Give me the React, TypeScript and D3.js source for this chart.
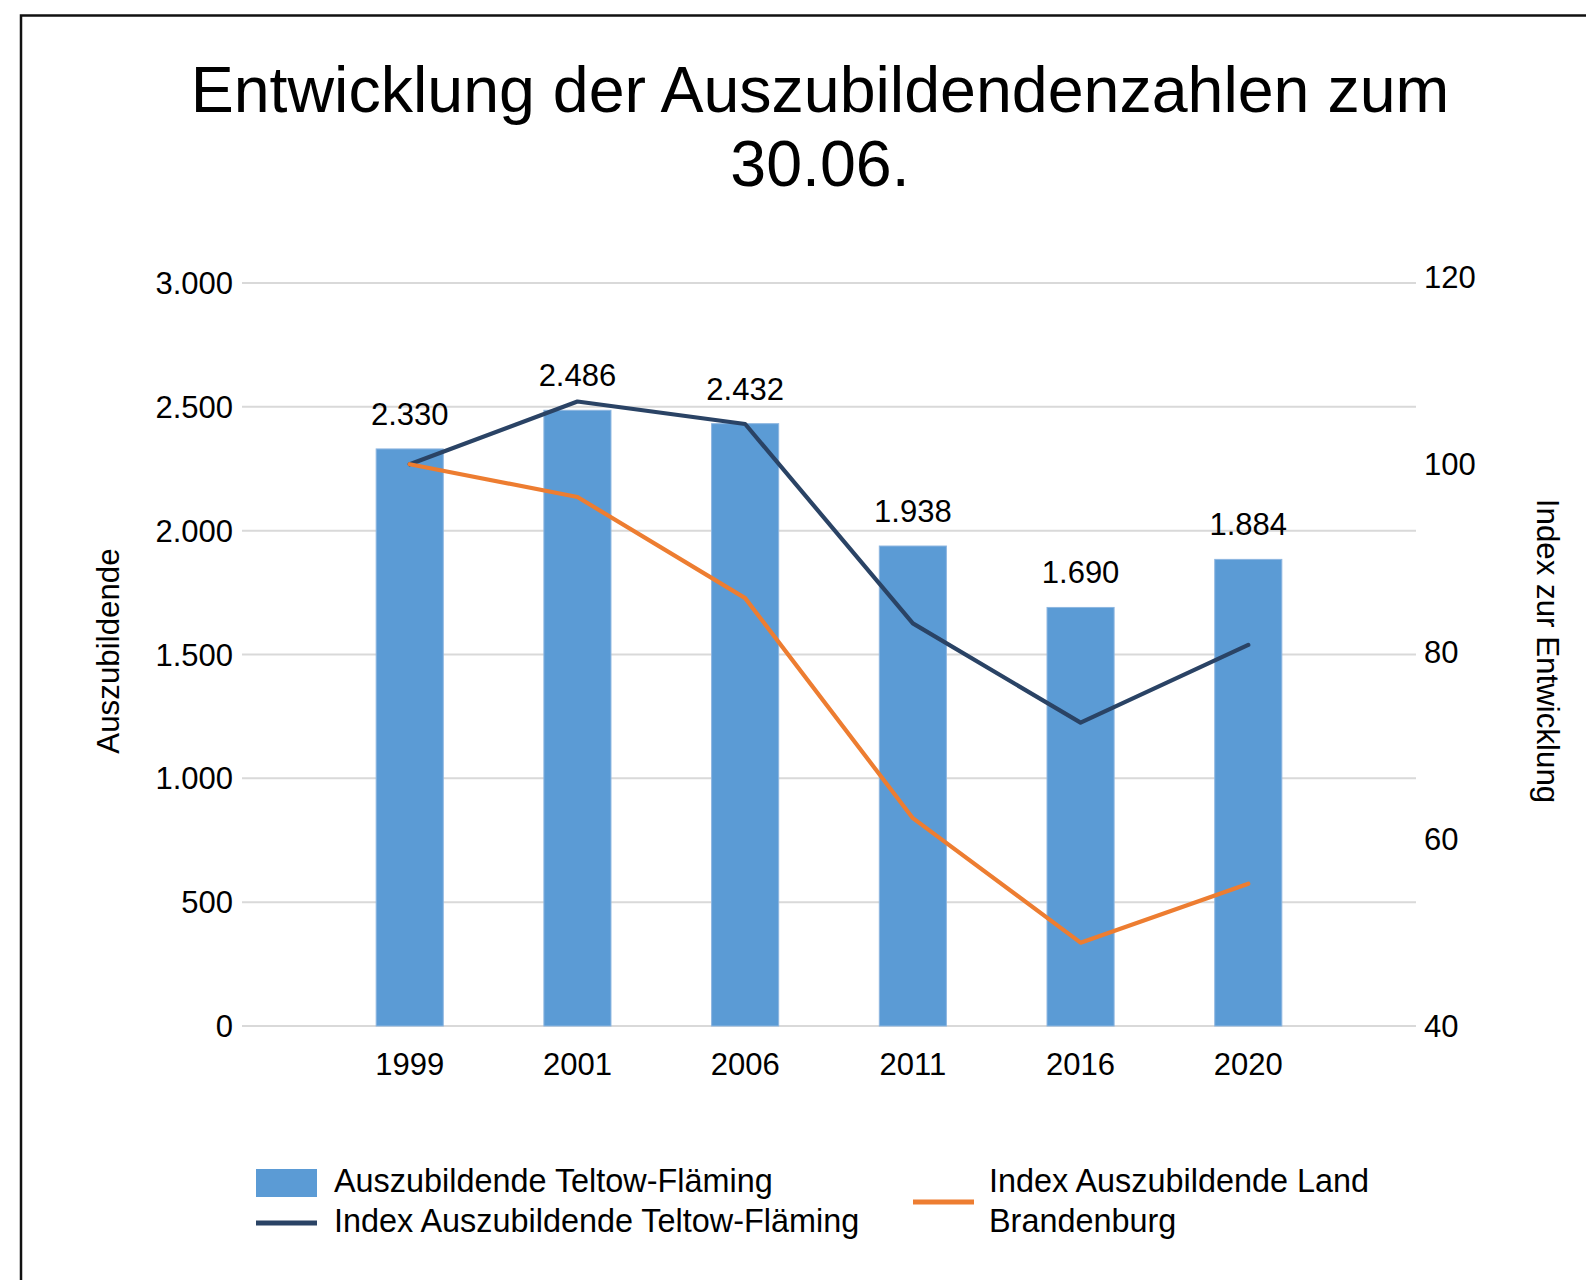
import React from 'react';
import * as d3 from 'd3';

const years = ['1999', '2001', '2006', '2011', '2016', '2020'];
const trainees = [2330, 2486, 2432, 1938, 1690, 1884];
const indexTeltow = [100, 106.7, 104.3, 83.0, 72.4, 80.7];
const indexBrandenburg = [100, 96.5, 85.7, 62.2, 48.9, 55.2];
const leftTicks = [0, 500, 1000, 1500, 2000, 2500, 3000];
const rightTicks = [40, 60, 80, 100, 120];

const titleLines = ['Entwicklung der Auszubildendenzahlen zum', '30.06.'];
const leftAxisTitle = 'Auszubildende';
const rightAxisTitle = 'Index zur Entwicklung';
const legendBar = 'Auszubildende Teltow-Fläming';
const legendNavy = 'Index Auszubildende Teltow-Fläming';
const legendOrange = ['Index Auszubildende Land', 'Brandenburg'];

const BAR = '#5B9BD5';
const NAVY = '#2A4365';
const ORANGE = '#ED7D31';
const GRID = '#D9D9D9';
const FONT = '"Liberation Sans", Arial, sans-serif';

const de = d3.formatLocale({ decimal: ',', thousands: '.', grouping: [3], currency: ['', '€'] });
const fmt = de.format(',d');

export default function App() {
  const W = 1586;
  const H = 1280;
  const x = d3.scaleBand<string>().domain(years).range([242, 1416]).paddingInner(0.6).paddingOuter(0.8);
  const yL = d3.scaleLinear().domain([0, 3000]).range([1026, 283]);
  const yR = d3.scaleLinear().domain([40, 120]).range([1026, 277]);
  const cx = (i: number) => (x(years[i]) as number) + x.bandwidth() / 2;

  const line = d3
    .line<number>()
    .x((_, i) => cx(i))
    .y((d) => yR(d));

  return (
    <svg
      width={W}
      height={H}
      viewBox={`0 0 ${W} ${H}`}
      style={{ position: 'absolute', left: 0, top: 0, display: 'block', background: '#fff' }}
      fontFamily={FONT}
    >
      <rect x={0} y={0} width={W} height={H} fill="#fff" />
      {/* frame */}
      <path d={`M21,${H} L21,15.5 L${W},15.5`} fill="none" stroke="#111" strokeWidth={2.5} />

      {/* title */}
      {titleLines.map((t, i) => (
        <text key={i} x={820} y={112 + i * 74} textAnchor="middle" fontSize={64.5} fill="#000">
          {t}
        </text>
      ))}

      {/* gridlines */}
      {leftTicks.map((v) => (
        <line key={v} x1={242} x2={1416} y1={yL(v)} y2={yL(v)} stroke={GRID} strokeWidth={2} />
      ))}

      {/* left ticks */}
      {leftTicks.map((v) => (
        <text key={v} x={233} y={yL(v)} dy="0.36em" textAnchor="end" fontSize={31} fill="#000">
          {fmt(v)}
        </text>
      ))}

      {/* right ticks */}
      {rightTicks.map((v) => (
        <text key={v} x={1424} y={yR(v)} dy="0.36em" textAnchor="start" fontSize={31} fill="#000">
          {v}
        </text>
      ))}

      {/* axis titles */}
      <text
        transform={`translate(119,651) rotate(-90)`}
        textAnchor="middle"
        fontSize={31.3}
        fill="#000"
      >
        {leftAxisTitle}
      </text>
      <text
        transform={`translate(1537,651) rotate(90)`}
        textAnchor="middle"
        fontSize={31.3}
        fill="#000"
      >
        {rightAxisTitle}
      </text>

      {/* bars */}
      {trainees.map((v, i) => (
        <rect
          key={years[i]}
          x={x(years[i])}
          y={yL(v)}
          width={x.bandwidth()}
          height={yL(0) - yL(v)}
          fill={BAR}
          stroke="#8DB6E0"
          strokeWidth={1}
        />
      ))}

      {/* x labels */}
      {years.map((y, i) => (
        <text key={y} x={cx(i)} y={1075} textAnchor="middle" fontSize={31} fill="#000">
          {y}
        </text>
      ))}

      {/* lines */}
      <path d={line(indexTeltow) || ''} fill="none" stroke={NAVY} strokeWidth={4.2} strokeLinejoin="round" strokeLinecap="round" />
      <path d={line(indexBrandenburg) || ''} fill="none" stroke={ORANGE} strokeWidth={4.2} strokeLinejoin="round" strokeLinecap="round" />

      {/* data labels */}
      {trainees.map((v, i) => (
        <text key={years[i]} x={cx(i)} y={yL(v) - 24} textAnchor="middle" fontSize={31} fill="#000">
          {fmt(v)}
        </text>
      ))}

      {/* legend */}
      <rect x={256} y={1169} width={61} height={28} fill={BAR} />
      <text x={334} y={1192} fontSize={32.4} fill="#000">
        {legendBar}
      </text>
      <line x1={256} x2={317} y1={1223} y2={1223} stroke={NAVY} strokeWidth={5} />
      <text x={334} y={1232} fontSize={32.4} fill="#000">
        {legendNavy}
      </text>
      <line x1={913} x2={974} y1={1202} y2={1202} stroke={ORANGE} strokeWidth={5} />
      {legendOrange.map((t, i) => (
        <text key={i} x={989} y={1192 + i * 40} fontSize={32.4} fill="#000">
          {t}
        </text>
      ))}
    </svg>
  );
}
